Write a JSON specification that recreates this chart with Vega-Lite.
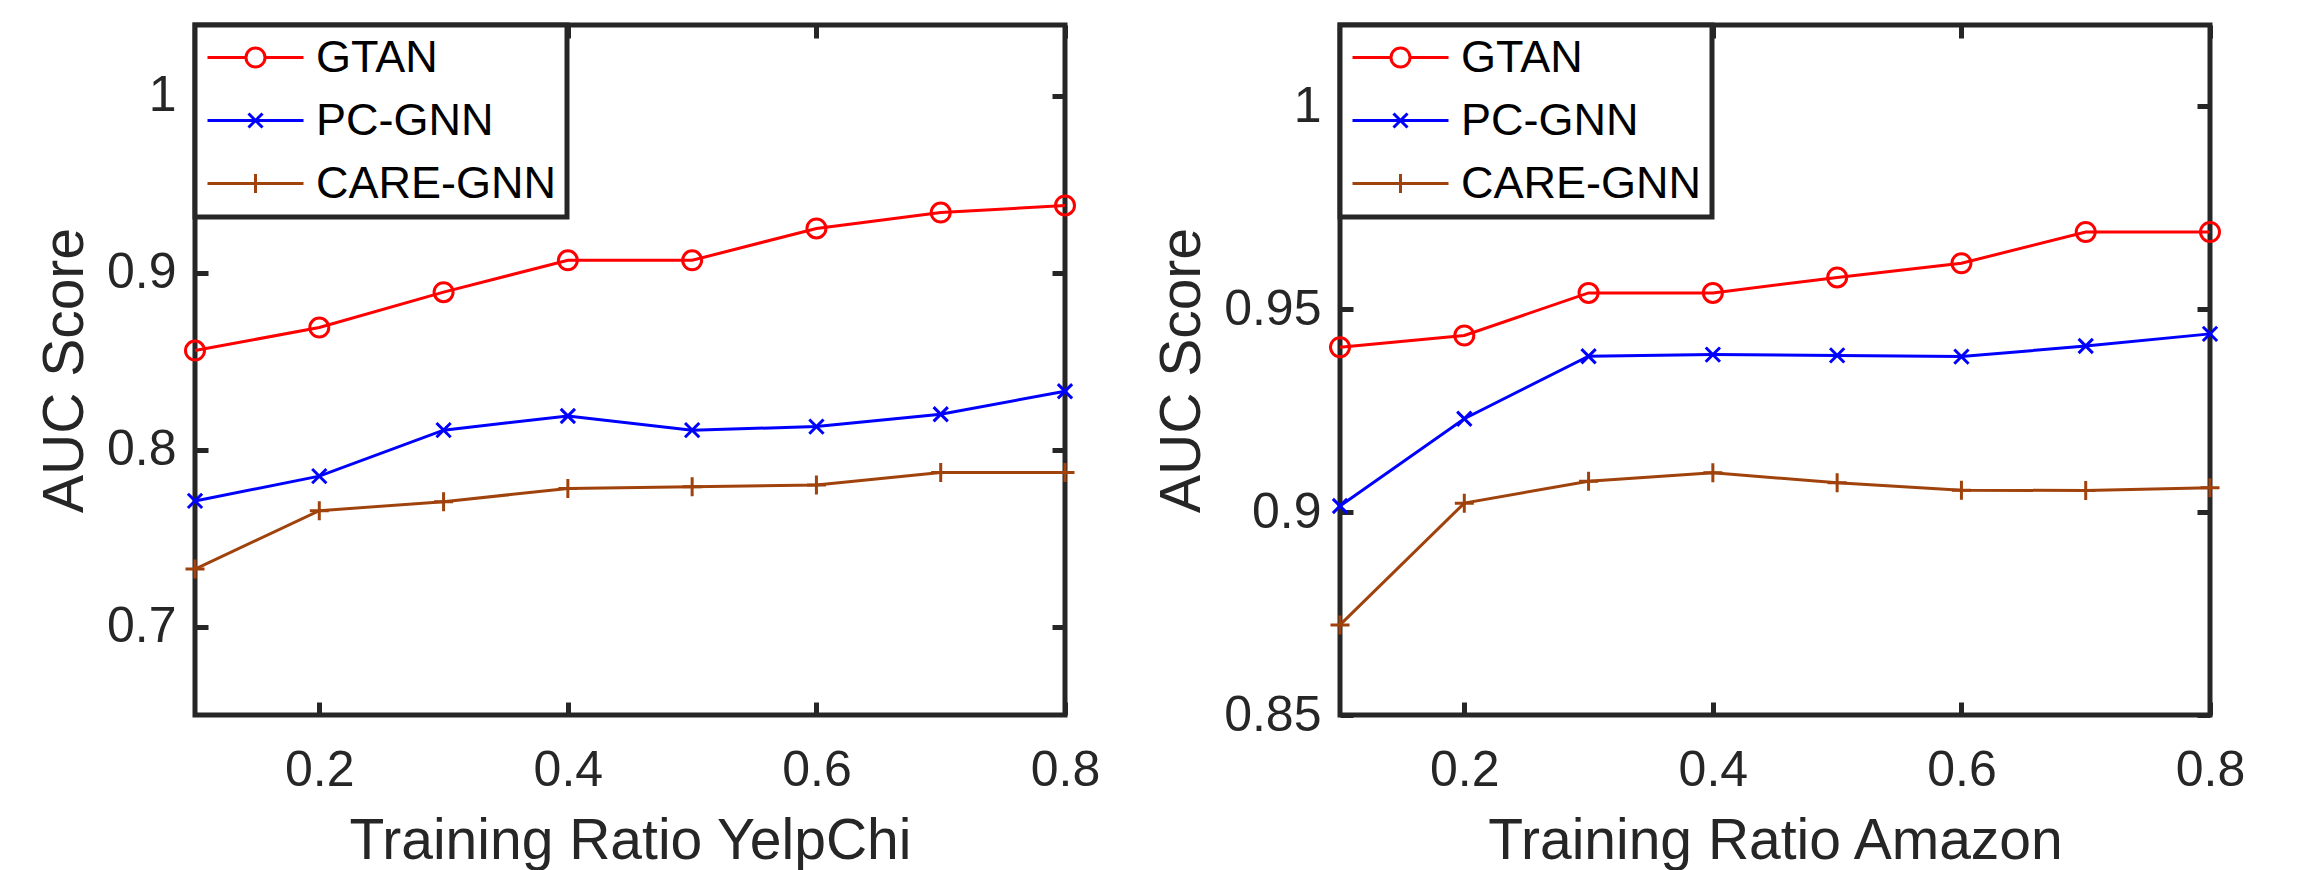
{
  "$schema": "https://vega.github.io/schema/vega-lite/v6.json",
  "padding": {"left": 33, "top": 20, "right": 0, "bottom": 0},
  "background": "white",
  "spacing": 48,
  "resolve": {"scale": {"color": "independent", "shape": "independent"}, "legend": {"color": "independent", "shape": "independent"}},
  "config": {
    "font": "Liberation Sans",
    "view": {"stroke": "#262626", "strokeWidth": 5},
    "axis": {
      "grid": false,
      "domain": false,
      "tickColor": "#262626",
      "tickWidth": 5,
      "tickSize": -13,
      "labelFont": "Liberation Sans",
      "labelFontSize": 50,
      "labelColor": "#262626",
      "labelFlush": false,
      "labelOverlap": false,
      "titleFont": "Liberation Sans",
      "titleFontSize": 57,
      "titleFontWeight": "normal",
      "titleColor": "#262626"
    },
    "legend": {
      "orient": "top-left", "offset": 0, "fillColor": "white", "strokeColor": "#262626", "padding": 10,
      "labelFont": "Liberation Sans", "labelFontSize": 45, "labelLimit": 600, "labelColor": "black", "labelOffset": 66, "rowPadding": 17,
      "symbolSize": 1600, "symbolStrokeWidth": 3
    }
  },
  "datasets": {
    "auc": [
      {"ds": "YelpChi", "model": "GTAN", "ratio": 0.1, "auc": 0.856},
      {"ds": "YelpChi", "model": "GTAN", "ratio": 0.2, "auc": 0.869},
      {"ds": "YelpChi", "model": "GTAN", "ratio": 0.3, "auc": 0.889},
      {"ds": "YelpChi", "model": "GTAN", "ratio": 0.4, "auc": 0.907},
      {"ds": "YelpChi", "model": "GTAN", "ratio": 0.5, "auc": 0.907},
      {"ds": "YelpChi", "model": "GTAN", "ratio": 0.6, "auc": 0.925},
      {"ds": "YelpChi", "model": "GTAN", "ratio": 0.7, "auc": 0.934},
      {"ds": "YelpChi", "model": "GTAN", "ratio": 0.8, "auc": 0.938},
      {"ds": "YelpChi", "model": "PC-GNN", "ratio": 0.1, "auc": 0.771},
      {"ds": "YelpChi", "model": "PC-GNN", "ratio": 0.2, "auc": 0.785},
      {"ds": "YelpChi", "model": "PC-GNN", "ratio": 0.3, "auc": 0.811},
      {"ds": "YelpChi", "model": "PC-GNN", "ratio": 0.4, "auc": 0.819},
      {"ds": "YelpChi", "model": "PC-GNN", "ratio": 0.5, "auc": 0.811},
      {"ds": "YelpChi", "model": "PC-GNN", "ratio": 0.6, "auc": 0.813},
      {"ds": "YelpChi", "model": "PC-GNN", "ratio": 0.7, "auc": 0.820},
      {"ds": "YelpChi", "model": "PC-GNN", "ratio": 0.8, "auc": 0.833},
      {"ds": "YelpChi", "model": "CARE-GNN", "ratio": 0.1, "auc": 0.7325},
      {"ds": "YelpChi", "model": "CARE-GNN", "ratio": 0.2, "auc": 0.7655},
      {"ds": "YelpChi", "model": "CARE-GNN", "ratio": 0.3, "auc": 0.7706},
      {"ds": "YelpChi", "model": "CARE-GNN", "ratio": 0.4, "auc": 0.778},
      {"ds": "YelpChi", "model": "CARE-GNN", "ratio": 0.5, "auc": 0.779},
      {"ds": "YelpChi", "model": "CARE-GNN", "ratio": 0.6, "auc": 0.780},
      {"ds": "YelpChi", "model": "CARE-GNN", "ratio": 0.7, "auc": 0.787},
      {"ds": "YelpChi", "model": "CARE-GNN", "ratio": 0.8, "auc": 0.787},
      {"ds": "Amazon", "model": "GTAN", "ratio": 0.1, "auc": 0.9406},
      {"ds": "Amazon", "model": "GTAN", "ratio": 0.2, "auc": 0.9435},
      {"ds": "Amazon", "model": "GTAN", "ratio": 0.3, "auc": 0.954},
      {"ds": "Amazon", "model": "GTAN", "ratio": 0.4, "auc": 0.954},
      {"ds": "Amazon", "model": "GTAN", "ratio": 0.5, "auc": 0.9578},
      {"ds": "Amazon", "model": "GTAN", "ratio": 0.6, "auc": 0.9613},
      {"ds": "Amazon", "model": "GTAN", "ratio": 0.7, "auc": 0.969},
      {"ds": "Amazon", "model": "GTAN", "ratio": 0.8, "auc": 0.969},
      {"ds": "Amazon", "model": "PC-GNN", "ratio": 0.1, "auc": 0.9015},
      {"ds": "Amazon", "model": "PC-GNN", "ratio": 0.2, "auc": 0.923},
      {"ds": "Amazon", "model": "PC-GNN", "ratio": 0.3, "auc": 0.9384},
      {"ds": "Amazon", "model": "PC-GNN", "ratio": 0.4, "auc": 0.9388},
      {"ds": "Amazon", "model": "PC-GNN", "ratio": 0.5, "auc": 0.9386},
      {"ds": "Amazon", "model": "PC-GNN", "ratio": 0.6, "auc": 0.9383},
      {"ds": "Amazon", "model": "PC-GNN", "ratio": 0.7, "auc": 0.9409},
      {"ds": "Amazon", "model": "PC-GNN", "ratio": 0.8, "auc": 0.9439},
      {"ds": "Amazon", "model": "CARE-GNN", "ratio": 0.1, "auc": 0.8722},
      {"ds": "Amazon", "model": "CARE-GNN", "ratio": 0.2, "auc": 0.9022},
      {"ds": "Amazon", "model": "CARE-GNN", "ratio": 0.3, "auc": 0.9076},
      {"ds": "Amazon", "model": "CARE-GNN", "ratio": 0.4, "auc": 0.9097},
      {"ds": "Amazon", "model": "CARE-GNN", "ratio": 0.5, "auc": 0.9072},
      {"ds": "Amazon", "model": "CARE-GNN", "ratio": 0.6, "auc": 0.9054},
      {"ds": "Amazon", "model": "CARE-GNN", "ratio": 0.7, "auc": 0.9053},
      {"ds": "Amazon", "model": "CARE-GNN", "ratio": 0.8, "auc": 0.906}
    ]
  },
  "hconcat": [
    {
      "width": 870,
      "height": 690,
      "data": {"name": "auc"},
      "transform": [{"filter": "datum.ds === 'YelpChi'"}],
      "resolve": {"axis": {"x": "independent", "y": "independent"}},
      "encoding": {
        "x": {"field": "ratio", "type": "quantitative", "scale": {"domain": [0.1, 0.8], "nice": false, "zero": false}, "axis": null},
        "y": {"field": "auc", "type": "quantitative", "scale": {"domain": [0.65, 1.04], "nice": false, "zero": false}, "axis": null}
      },
      "layer": [
        {
          "mark": {"type": "line", "strokeWidth": 3, "clip": false},
          "encoding": {
            "color": {"field": "model", "type": "nominal", "scale": {"domain": ["GTAN", "PC-GNN", "CARE-GNN"], "range": ["#FF0000", "#0000FF", "#A0420C"]}, "legend": {"title": null, "encode": {"legend": {"update": {"strokeWidth": {"value": 5}}}}}}
          }
        },
        {
          "transform": [{"filter": "datum.model === 'GTAN'"}],
          "mark": {"type": "point", "shape": "circle", "filled": false, "color": "#FF0000", "strokeWidth": 3, "size": 361, "opacity": 1, "clip": false},
          "encoding": {
            "x": {"field": "ratio", "type": "quantitative",
                  "axis": {"orient": "bottom", "values": [0.2, 0.4, 0.6, 0.8], "format": "~g", "labelPadding": 43, "title": "Training Ratio YelpChi", "titlePadding": 18}},
            "y": {"field": "auc", "type": "quantitative",
                  "axis": {"orient": "left", "values": [0.7, 0.8, 0.9, 1], "format": "~g", "labelPadding": 32, "title": "AUC Score", "titlePadding": 12}}
          }
        },
        {
          "transform": [{"filter": "datum.model === 'PC-GNN'"}],
          "mark": {"type": "point", "shape": "M-0.75,-0.75L0.75,0.75M-0.75,0.75L0.75,-0.75", "filled": false, "color": "#0000FF", "strokeWidth": 3, "size": 361, "opacity": 1, "clip": false}
        },
        {
          "transform": [{"filter": "datum.model === 'CARE-GNN'"}],
          "mark": {"type": "point", "shape": "M-1,0H1M0,-1V1", "filled": false, "color": "#A0420C", "strokeWidth": 3, "size": 361, "opacity": 1, "clip": false}
        },
        {
          "transform": [{"filter": "false"}],
          "mark": {"type": "point", "filled": false, "strokeWidth": 3},
          "encoding": {
            "color": {"field": "model", "type": "nominal", "scale": {"domain": ["GTAN", "PC-GNN", "CARE-GNN"], "range": ["#FF0000", "#0000FF", "#A0420C"]}, "legend": {"title": null, "encode": {"legend": {"update": {"strokeWidth": {"value": 5}}}}}},
            "shape": {"field": "model", "type": "nominal", "scale": {"domain": ["GTAN", "PC-GNN", "CARE-GNN"], "range": ["M-1,0H0.925M1.875,0H3.8M0.925,0A0.475,0.475 0 1,1 1.875,0A0.475,0.475 0 1,1 0.925,0", "M-1,0H3.8M1.05,-0.35L1.75,0.35M1.05,0.35L1.75,-0.35", "M-1,0H3.8M1.4,-0.475V0.475"]}, "legend": {"title": null, "encode": {"legend": {"update": {"strokeWidth": {"value": 5}}}}}}
          }
        },
        {
          "mark": {"type": "point", "opacity": 0},
          "encoding": {
            "x": {"field": "ratio", "type": "quantitative", "axis": {"orient": "top", "values": [0.2, 0.4, 0.6, 0.8], "labels": false, "title": null}},
            "y": {"field": "auc", "type": "quantitative", "axis": {"orient": "right", "values": [0.7, 0.8, 0.9, 1], "labels": false, "title": null}}
          }
        }
      ]
    },
    {
      "width": 870,
      "height": 690,
      "data": {"name": "auc"},
      "transform": [{"filter": "datum.ds === 'Amazon'"}],
      "resolve": {"axis": {"x": "independent", "y": "independent"}},
      "encoding": {
        "x": {"field": "ratio", "type": "quantitative", "scale": {"domain": [0.1, 0.8], "nice": false, "zero": false}, "axis": null},
        "y": {"field": "auc", "type": "quantitative", "scale": {"domain": [0.85, 1.02], "nice": false, "zero": false}, "axis": null}
      },
      "layer": [
        {
          "mark": {"type": "line", "strokeWidth": 3, "clip": false},
          "encoding": {
            "color": {"field": "model", "type": "nominal", "scale": {"domain": ["GTAN", "PC-GNN", "CARE-GNN"], "range": ["#FF0000", "#0000FF", "#A0420C"]}, "legend": {"title": null, "encode": {"legend": {"update": {"strokeWidth": {"value": 5}}}}}}
          }
        },
        {
          "transform": [{"filter": "datum.model === 'GTAN'"}],
          "mark": {"type": "point", "shape": "circle", "filled": false, "color": "#FF0000", "strokeWidth": 3, "size": 361, "opacity": 1, "clip": false},
          "encoding": {
            "x": {"field": "ratio", "type": "quantitative",
                  "axis": {"orient": "bottom", "values": [0.2, 0.4, 0.6, 0.8], "format": "~g", "labelPadding": 43, "title": "Training Ratio Amazon", "titlePadding": 18}},
            "y": {"field": "auc", "type": "quantitative",
                  "axis": {"orient": "left", "values": [0.85, 0.9, 0.95, 1], "format": "~g", "labelPadding": 32, "title": "AUC Score", "titlePadding": 12}}
          }
        },
        {
          "transform": [{"filter": "datum.model === 'PC-GNN'"}],
          "mark": {"type": "point", "shape": "M-0.75,-0.75L0.75,0.75M-0.75,0.75L0.75,-0.75", "filled": false, "color": "#0000FF", "strokeWidth": 3, "size": 361, "opacity": 1, "clip": false}
        },
        {
          "transform": [{"filter": "datum.model === 'CARE-GNN'"}],
          "mark": {"type": "point", "shape": "M-1,0H1M0,-1V1", "filled": false, "color": "#A0420C", "strokeWidth": 3, "size": 361, "opacity": 1, "clip": false}
        },
        {
          "transform": [{"filter": "false"}],
          "mark": {"type": "point", "filled": false, "strokeWidth": 3},
          "encoding": {
            "color": {"field": "model", "type": "nominal", "scale": {"domain": ["GTAN", "PC-GNN", "CARE-GNN"], "range": ["#FF0000", "#0000FF", "#A0420C"]}, "legend": {"title": null, "encode": {"legend": {"update": {"strokeWidth": {"value": 5}}}}}},
            "shape": {"field": "model", "type": "nominal", "scale": {"domain": ["GTAN", "PC-GNN", "CARE-GNN"], "range": ["M-1,0H0.925M1.875,0H3.8M0.925,0A0.475,0.475 0 1,1 1.875,0A0.475,0.475 0 1,1 0.925,0", "M-1,0H3.8M1.05,-0.35L1.75,0.35M1.05,0.35L1.75,-0.35", "M-1,0H3.8M1.4,-0.475V0.475"]}, "legend": {"title": null, "encode": {"legend": {"update": {"strokeWidth": {"value": 5}}}}}}
          }
        },
        {
          "mark": {"type": "point", "opacity": 0},
          "encoding": {
            "x": {"field": "ratio", "type": "quantitative", "axis": {"orient": "top", "values": [0.2, 0.4, 0.6, 0.8], "labels": false, "title": null}},
            "y": {"field": "auc", "type": "quantitative", "axis": {"orient": "right", "values": [0.85, 0.9, 0.95, 1], "labels": false, "title": null}}
          }
        }
      ]
    }
  ]
}
